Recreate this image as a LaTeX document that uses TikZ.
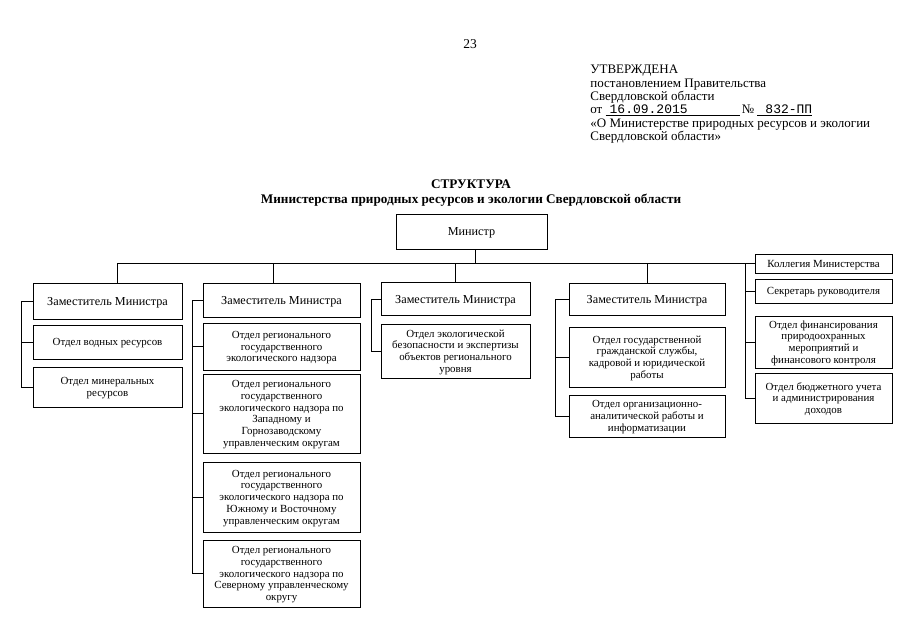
\documentclass[tikz,border=0pt]{standalone}
\usepackage{fontspec}
\setmainfont{Liberation Serif}
\setmonofont{Liberation Mono}
\begin{document}
\begin{tikzpicture}
    [x=1pt,y=-1pt,inner sep=0pt,line width=0.8pt,
     box/.style={draw,align=center,text depth=0pt},
     zam/.style={box,font=\fontsize{12.2}{14}\selectfont},
     otdel/.style={box,font=\fontsize{10.9}{11.7}\selectfont}]
    \useasboundingbox (0,0) rectangle (905,640);
    \node (page) at (470,44) [font=\fontsize{13.5}{15}\selectfont] {23};
    \node (utv) at (590,65) [anchor=north west,align=left,font=\fontsize{13}{13.3}\selectfont]
      {УТВЕРЖДЕНА\\
       постановлением Правительства\\
       Свердловской области\\
       от \underline{\hspace{4pt}\texttt{16.09.2015}\hspace{52pt}}\,№ \underline{\hspace{8pt}\texttt{832-ПП}}\\
       «О Министерстве природных ресурсов и экологии\\
       Свердловской области»};
    \node (title) at (471,193) [align=center,font=\bfseries\fontsize{13.2}{15}\selectfont]
      {СТРУКТУРА\\ Министерства природных ресурсов и экологии Свердловской области};
    \node (min) at (471.5,231.5) [zam,minimum width=151,minimum height=35] {Министр};
    \node (z1) at (107.5,301) [zam,minimum width=149,minimum height=36] {Заместитель Министра};
    \node (o11) at (107.5,342) [otdel,minimum width=149,minimum height=34] {Отдел водных ресурсов};
    \node (o12) at (107.5,387) [otdel,minimum width=149,minimum height=40] {Отдел минеральных\\ ресурсов};
    \node (z2) at (281.5,300) [zam,minimum width=157,minimum height=34] {Заместитель Министра};
    \node (o21) at (281.5,346.5) [otdel,minimum width=157,minimum height=47]
      {Отдел регионального\\ государственного\\ экологического надзора};
    \node (o22) at (281.5,413.5) [otdel,minimum width=157,minimum height=79]
      {Отдел регионального\\ государственного\\ экологического надзора по\\ Западному и\\ Горнозаводскому\\ управленческим округам};
    \node (o23) at (281.5,497) [otdel,minimum width=157,minimum height=70]
      {Отдел регионального\\ государственного\\ экологического надзора по\\ Южному и Восточному\\ управленческим округам};
    \node (o24) at (281.5,573.5) [otdel,minimum width=157,minimum height=67]
      {Отдел регионального\\ государственного\\ экологического надзора по\\ Северному управленческому\\ округу};
    \node (z3) at (455.5,299) [zam,minimum width=149,minimum height=33] {Заместитель Министра};
    \node (o31) at (455.5,351) [otdel,minimum width=149,minimum height=54]
      {Отдел экологической\\ безопасности и экспертизы\\ объектов регионального\\ уровня};
    \node (z4) at (647,299) [zam,minimum width=156,minimum height=32] {Заместитель Министра};
    \node (o41) at (647,357) [otdel,minimum width=156,minimum height=60]
      {Отдел государственной\\ гражданской службы,\\ кадровой и юридической\\ работы};
    \node (o42) at (647,416) [otdel,minimum width=156,minimum height=42]
      {Отдел организационно-\\ аналитической работы и\\ информатизации};
    \node (k1) at (823.5,263.5) [otdel,minimum width=137,minimum height=19] {Коллегия Министерства};
    \node (k2) at (823.5,291) [otdel,minimum width=137,minimum height=24] {Секретарь руководителя};
    \node (k3) at (823.5,342) [otdel,minimum width=137,minimum height=52]
      {Отдел финансирования\\ природоохранных\\ мероприятий и\\ финансового контроля};
    \node (k4) at (823.5,398) [otdel,minimum width=137,minimum height=50]
      {Отдел бюджетного учета\\ и администрирования\\ доходов};
    \coordinate (b1) at (21,0);
    \coordinate (b2) at (192,0);
    \coordinate (b3) at (371,0);
    \coordinate (b4) at (555,0);
    \coordinate (b5) at (745,0);
    \draw ([xshift=10]z1.north) |- (k1.west);
    \draw ([xshift=4]min.south) -- ([xshift=4]min.south |- k1.west);
    \draw ([xshift=-8]z2.north) -- ([xshift=-8]z2.north |- k1.west);
    \draw (z3.north) -- (z3.north |- k1.west);
    \draw (z4.north) -- (z4.north |- k1.west);
    \draw (z1.west) -- (z1.west -| b1) -- (o12.west -| b1) -- (o12.west);
    \draw (o11.west) -- (o11.west -| b1);
    \draw (z2.west) -- (z2.west -| b2) -- (o24.west -| b2) -- (o24.west);
    \draw (o21.west) -- (o21.west -| b2);
    \draw (o22.west) -- (o22.west -| b2);
    \draw (o23.west) -- (o23.west -| b2);
    \draw (z3.west) -- (z3.west -| b3) -- (o31.west -| b3) -- (o31.west);
    \draw (z4.west) -- (z4.west -| b4) -- (o42.west -| b4) -- (o42.west);
    \draw (o41.west) -- (o41.west -| b4);
    \draw (k1.west -| b5) -- (k4.west -| b5) -- (k4.west);
    \draw (k2.west) -- (k2.west -| b5);
    \draw (k3.west) -- (k3.west -| b5);
  \end{tikzpicture}
\end{document}
